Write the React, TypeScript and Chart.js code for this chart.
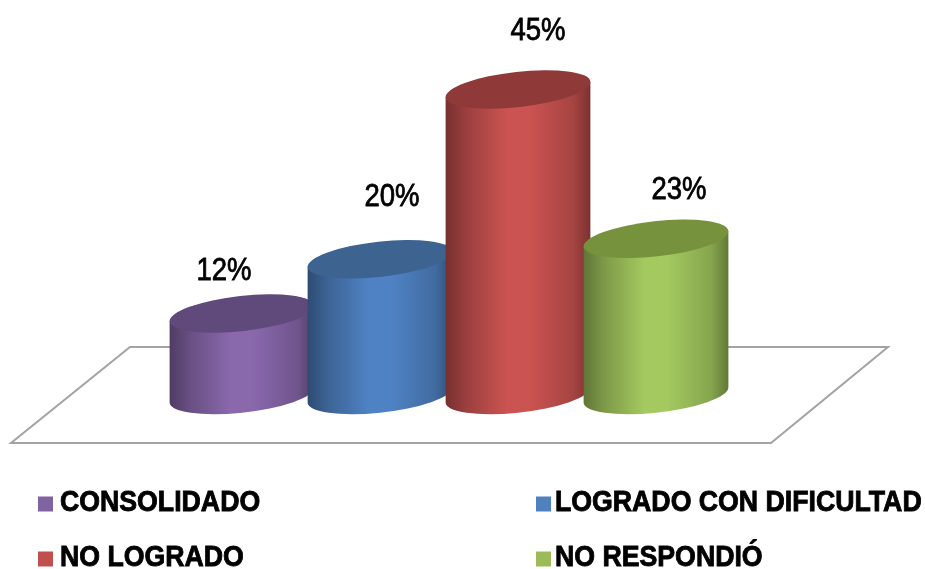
import { useEffect, useRef } from "react";
import { Chart, registerables } from "chart.js";

Chart.register(...registerables);

const categories = ["CONSOLIDADO", "LOGRADO CON DIFICULTAD", "NO LOGRADO", "NO RESPONDIÓ"];
const percentages = [12, 20, 45, 23];
const sideColors = ["#8968AC", "#4F82C4", "#CB5351", "#A4C95F"];
const capColors = ["#604A7B", "#3D6491", "#8F3A38", "#76923C"];
const swatchColors = ["#8064A2", "#4F81BD", "#C0504D", "#9BBB59"];

// Label offsets from the centre of each cylinder's cap.
const labelOffsetX = [-18, 12, 20, 23];
const labelOffsetY = [-42, -62, -58, -49];

const FONT = '"Liberation Sans", Arial, sans-serif';
const TILT = (-6.3 * Math.PI) / 180;
const RX = 72.8;
const RY = 17.6;

function shade(hex: string, k: number): string {
  const n = parseInt(hex.slice(1), 16);
  const c = [(n >> 16) & 255, (n >> 8) & 255, n & 255].map((v) => Math.round(v * k));
  return `rgb(${c[0]},${c[1]},${c[2]})`;
}

// Angle on the tilted ellipse at which its outline is vertical.
const tangentAngle = Math.atan(-(RY / RX) * Math.tan(TILT));

function ellipsePoint(cx: number, cy: number, t: number): [number, number] {
  return [
    cx + RX * Math.cos(t) * Math.cos(TILT) - RY * Math.sin(t) * Math.sin(TILT),
    cy + RX * Math.cos(t) * Math.sin(TILT) + RY * Math.sin(t) * Math.cos(TILT),
  ];
}

const floorPlugin = {
  id: "floor",
  beforeDatasetsDraw(chart: any) {
    const { ctx, chartArea, scales } = chart;
    const base = scales.y.getPixelForValue(0);
    const depth = 48;
    ctx.save();
    ctx.strokeStyle = "#A3A3A3";
    ctx.lineWidth = 2;
    ctx.lineJoin = "miter";
    ctx.beginPath();
    ctx.moveTo(chartArea.left - 43, base - depth);
    ctx.lineTo(chartArea.right + 163, base - depth);
    ctx.lineTo(chartArea.right + 46, base + depth);
    ctx.lineTo(chartArea.left - 162, base + depth);
    ctx.closePath();
    ctx.stroke();
    ctx.restore();
  },
};

const cylinderPlugin = {
  id: "cylinders",
  afterDatasetsDraw(chart: any) {
    const { ctx } = chart;
    const bars = chart.getDatasetMeta(0).data;
    bars.forEach((bar: any, i: number) => {
      const { x, y, base } = bar;
      const left = x - 72.5;
      const right = x + 72.5;
      const grad = ctx.createLinearGradient(left, 0, right, 0);
      const col = sideColors[i];
      grad.addColorStop(0, shade(col, 0.58));
      grad.addColorStop(0.14, shade(col, 0.76));
      grad.addColorStop(0.42, col);
      grad.addColorStop(0.58, col);
      grad.addColorStop(0.88, shade(col, 0.82));
      grad.addColorStop(1, shade(col, 0.6));

      const tl = ellipsePoint(x, y, Math.PI + tangentAngle);
      const tr = ellipsePoint(x, y, tangentAngle);
      const bl = ellipsePoint(x, base, Math.PI + tangentAngle);

      ctx.save();
      ctx.fillStyle = grad;
      ctx.beginPath();
      ctx.moveTo(tl[0], tl[1]);
      ctx.lineTo(bl[0], bl[1]);
      ctx.ellipse(x, base, RX, RY, TILT, Math.PI + tangentAngle, tangentAngle, true);
      ctx.lineTo(tr[0], tr[1]);
      ctx.closePath();
      ctx.fill();

      ctx.fillStyle = capColors[i];
      ctx.beginPath();
      ctx.ellipse(x, y, RX, RY, TILT, 0, Math.PI * 2);
      ctx.fill();

      ctx.fillStyle = "#000";
      ctx.strokeStyle = "#000";
      ctx.lineWidth = 0.7;
      ctx.font = `27.5px ${FONT}`;
      ctx.textAlign = "center";
      ctx.textBaseline = "middle";
      ctx.translate(x + labelOffsetX[i], y + labelOffsetY[i]);
      ctx.scale(1, 1.15);
      ctx.fillText(`${percentages[i]}%`, 0, 0);
      ctx.strokeText(`${percentages[i]}%`, 0, 0);
      ctx.restore();
    });
  },
};

// Two-column legend below the floor.
const legendPlugin = {
  id: "cornerLegend",
  afterDraw(chart: any) {
    const { ctx, chartArea, scales } = chart;
    const base = scales.y.getPixelForValue(0);
    const columns = [chartArea.left - 135, chartArea.left + 363];
    const rows = [base + 109, base + 164];
    ctx.save();
    ctx.textAlign = "left";
    ctx.textBaseline = "middle";
    categories.forEach((name, i) => {
      const sx = columns[i % 2];
      const sy = rows[Math.floor(i / 2)];
      ctx.fillStyle = swatchColors[i];
      ctx.fillRect(sx, sy - 7.5, 15, 15);
      ctx.save();
      ctx.fillStyle = "#000";
      ctx.strokeStyle = "#000";
      ctx.lineWidth = 0.8;
      ctx.font = `bold 26.7px ${FONT}`;
      ctx.translate(sx + (i % 2 ? 19 : 22), sy - 1);
      ctx.scale(1, 1.08);
      ctx.fillText(name, 0, 0);
      ctx.strokeText(name, 0, 0);
      ctx.restore();
    });
    ctx.restore();
  },
};

export default function App() {
  const ref = useRef<HTMLCanvasElement>(null);
  useEffect(() => {
    const chart = new Chart(ref.current!, {
      type: "bar",
      data: {
        labels: categories,
        datasets: [
          {
            data: percentages,
            backgroundColor: "rgba(0,0,0,0)",
            barThickness: 145,
          },
        ],
      },
      options: {
        responsive: false,
        animation: false,
        layout: { padding: { left: 173, right: 200, top: 55.5, bottom: 174 } },
        scales: {
          x: { display: false },
          y: { display: false, min: 0, max: 50 },
        },
        plugins: { legend: { display: false }, tooltip: { enabled: false } },
      },
      plugins: [floorPlugin, cylinderPlugin, legendPlugin],
    });
    return () => chart.destroy();
  }, []);
  return (
    <div style={{ position: "absolute", left: 0, top: 0, width: 925, height: 569, background: "#fff" }}>
      <canvas ref={ref} width={925} height={569} style={{ display: "block" }} />
    </div>
  );
}
